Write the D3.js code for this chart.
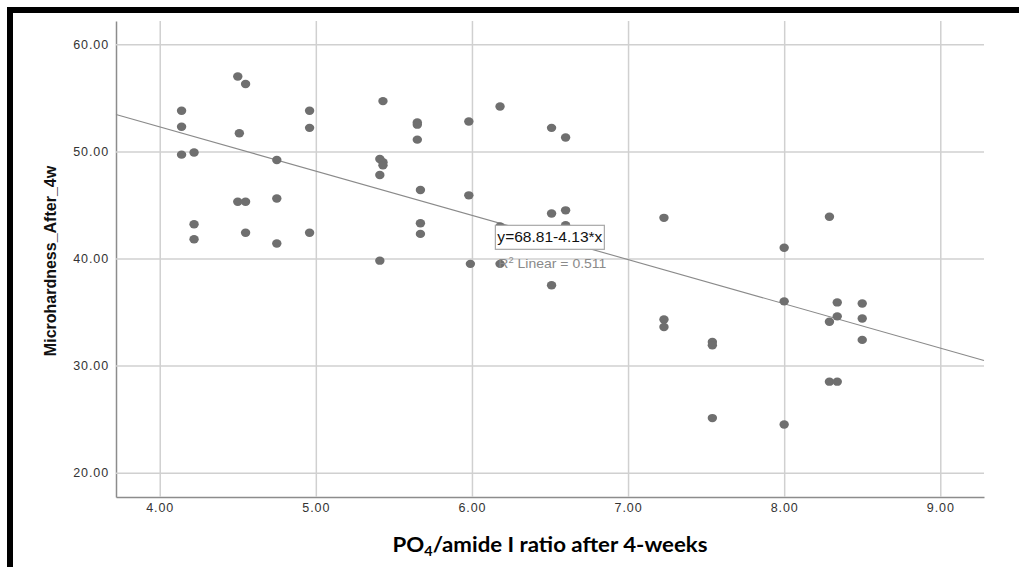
<!DOCTYPE html>
<html>
<head>
<meta charset="utf-8">
<script src="https://cdn.jsdelivr.net/npm/d3@7"></script>
<style>
    body { margin: 0; background: #fff; }
    svg { display: block; }
    .tick text { font-family: "Liberation Sans", Arial, sans-serif; }
</style>
</head>
<body>
<div id="chart"></div>
<script>
// PO4/amide I ratio after 4 weeks
const ratioValues = [
    4.14, 4.14, 4.14, 4.22, 4.22, 4.22,
    4.50, 4.55, 4.51, 4.50, 4.55, 4.55,
    4.75, 4.75, 4.75, 4.96, 4.96, 4.96,
    5.43, 5.41, 5.43, 5.43, 5.41, 5.41,
    5.65, 5.65, 5.65, 5.67, 5.67, 5.67,
    5.98, 5.98, 5.99, 6.18, 6.18, 6.18,
    6.51, 6.51, 6.51, 6.60, 6.60, 6.60,
    7.23, 7.23, 7.23, 7.54, 7.54, 7.54,
    8.00, 8.00, 8.00, 8.29, 8.29, 8.29,
    8.34, 8.34, 8.34, 8.50, 8.50, 8.50
];
// Microhardness after 4 weeks
const hardnessValues = [
    53.8, 52.3, 49.7, 49.9, 43.2, 41.8,
    57.0, 56.3, 51.7, 45.3, 45.3, 42.4,
    49.2, 45.6, 41.4, 53.8, 52.2, 42.4,
    54.7, 49.3, 49.0, 48.7, 47.8, 39.8,
    52.7, 52.5, 51.1, 46.4, 43.3, 42.3,
    52.8, 45.9, 39.5, 54.2, 43.0, 39.5,
    52.2, 44.2, 37.5, 51.3, 44.5, 43.1,
    43.8, 34.3, 33.6, 32.2, 31.9, 25.1,
    41.0, 36.0, 24.5, 43.9, 34.1, 28.5,
    35.9, 34.6, 28.5, 35.8, 34.4, 32.4
];

const xTicks = [4, 5, 6, 7, 8, 9];
const yTicks = [20, 30, 40, 50, 60];
const xDomain = [3.72, 9.28];
const yDomain = [17.73, 62.18];

// fit line reported by SPSS
const intercept = 68.81;
const slope = -4.13;
const rSquared = 0.511;
const fitLabel = "y=68.81-4.13*x";
const annotationAt = [6.15, 43.1];

const points = ratioValues.map((x, i) => ({ x: x, y: hardnessValues[i] }));

const width = 1019, height = 567;
const margin = { left: 116, right: 35, top: 21, bottom: 70 };
const innerW = width - margin.left - margin.right;
const innerH = height - margin.top - margin.bottom;

const svg = d3.select("#chart")
    .append("svg")
    .attr("width", width)
    .attr("height", height);

// thick black frame (top and left edges visible)
svg.append("path")
    .attr("d", `M10,${height + 10} L10,10 L${width + 10},10`)
    .attr("fill", "none")
    .attr("stroke", "#000")
    .attr("stroke-width", 6)

const g = svg.append("g")
    .attr("transform", `translate(${margin.left},${margin.top})`);

const x = d3.scaleLinear().domain(xDomain).range([0, innerW]);
const y = d3.scaleLinear().domain(yDomain).range([innerH, 0]);

const fmt = d3.format(".2f");

const xAxis = g.append("g")
    .attr("transform", `translate(0,${innerH})`)
    .call(d3.axisBottom(x)
        .tickValues(xTicks)
        .tickFormat(fmt)
        .tickSizeInner(-innerH)
        .tickSizeOuter(0)
        .tickPadding(6));

const yAxis = g.append("g")
    .call(d3.axisLeft(y)
        .tickValues(yTicks)
        .tickFormat(fmt)
        .tickSizeInner(-innerW)
        .tickSizeOuter(0)
        .tickPadding(7));

[xAxis, yAxis].forEach(ax => {
    ax.selectAll(".tick line")
        .attr("stroke", "#d0d0d0")
        .attr("stroke-width", 1.5)
    ax.selectAll(".tick text")
        .attr("fill", "#333")
        .style("font-size", "12.5px")
        .style("letter-spacing", "0.9px")
    ax.select(".domain")
        .attr("stroke", "#8c8c8c")
        .attr("stroke-width", 1.5)
});

// regression line
g.append("line")
    .attr("x1", x(xDomain[0]))
    .attr("y1", y(intercept + slope * xDomain[0]))
    .attr("x2", x(xDomain[1]))
    .attr("y2", y(intercept + slope * xDomain[1]))
    .attr("stroke", "#8a8a8a")
    .attr("stroke-width", 1.1)

// points
g.selectAll("ellipse.pt")
    .data(points)
    .join("ellipse")
    .classed("pt", true)
    .attr("cx", d => x(d.x))
    .attr("cy", d => y(d.y))
    .attr("rx", 4.7)
    .attr("ry", 4.2)
    .attr("fill", "#6f6f6f")

// fit annotation
const ax0 = x(annotationAt[0]), ay0 = y(annotationAt[1]);
g.append("rect")
    .attr("x", ax0)
    .attr("y", ay0)
    .attr("width", 109)
    .attr("height", 24)
    .attr("fill", "#fff")
    .attr("stroke", "#a8a8a8")
    .attr("stroke-width", 1.2)

g.append("text")
    .attr("x", ax0 + 2)
    .attr("y", ay0 + 17)
    .attr("textLength", 105)
    .attr("lengthAdjust", "spacingAndGlyphs")
    .style("font-family", "'Liberation Sans', Arial, sans-serif")
    .style("font-size", "14px")
    .attr("fill", "#111")
    .text(fitLabel)

const r2 = g.append("text")
    .attr("x", ax0 + 3)
    .attr("y", ay0 + 43)
    .attr("textLength", 108)
    .attr("lengthAdjust", "spacingAndGlyphs")
    .style("font-family", "'Liberation Sans', Arial, sans-serif")
    .style("font-size", "13.5px")
    .attr("fill", "#8a8a8a")
r2.append("tspan").text("R");
r2.append("tspan").attr("dy", -5).style("font-size", "9px").text("2");
r2.append("tspan").attr("dy", 5).text(" Linear = " + rSquared.toFixed(3));

// axis titles
svg.append("text")
    .attr("transform", `translate(56,${margin.top + innerH / 2 + 2}) rotate(-90)`)
    .attr("text-anchor", "middle")
    .style("font-family", "'Liberation Sans', Arial, sans-serif")
    .style("font-size", "16px")
    .style("font-weight", "bold")
    .attr("fill", "#111")
    .text("Microhardness_After_4w")

const xt = svg.append("text")
    .attr("x", margin.left + innerW / 2)
    .attr("y", 552)
    .attr("text-anchor", "middle")
    .attr("textLength", 315)
    .attr("lengthAdjust", "spacingAndGlyphs")
    .style("font-family", "Lato, 'Open Sans', sans-serif")
    .style("font-size", "20px")
    .style("font-weight", "bold")
    .attr("fill", "#000")
xt.append("tspan").text("PO");
xt.append("tspan").attr("dy", 4).style("font-size", "13px").text("4");
xt.append("tspan").attr("dy", -4).text("/amide I ratio after 4-weeks");
</script>
</body>
</html>
